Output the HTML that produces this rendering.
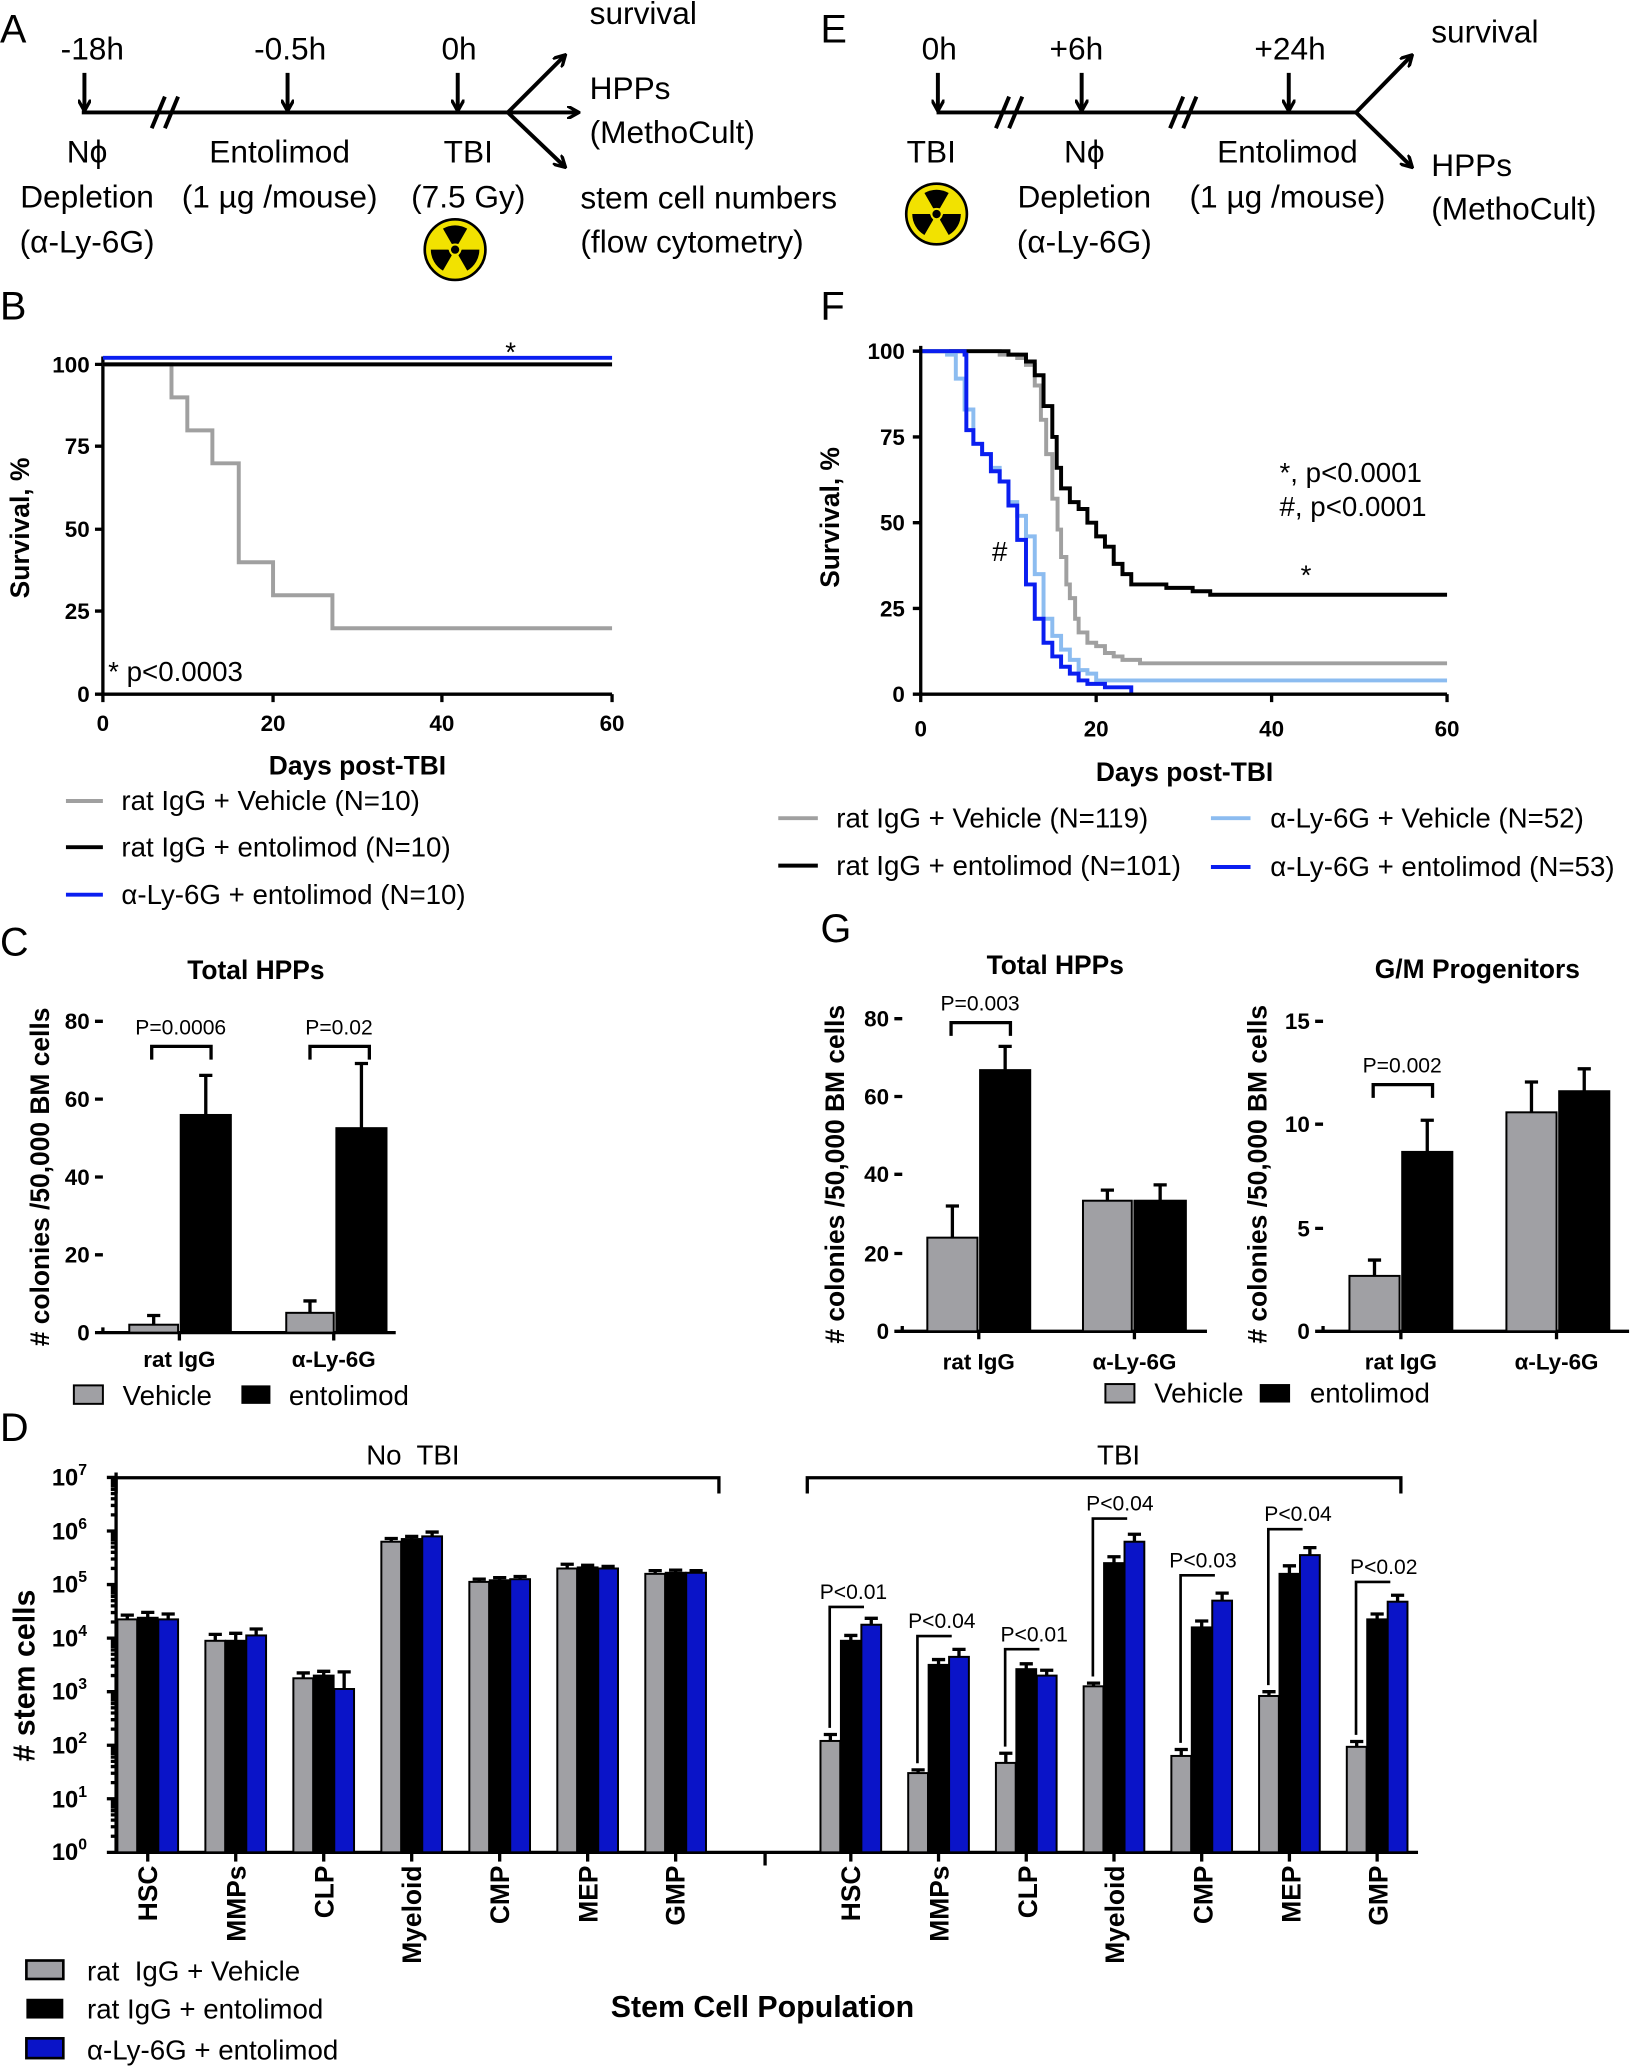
<!DOCTYPE html>
<html><head><meta charset="utf-8"><style>
html,body{margin:0;padding:0;background:#fff}
svg{display:block}
text{font-family:"Liberation Sans",sans-serif;fill:#000}
.big{font-size:24px}
.pl{font-size:30px}
.tk{font-size:17px;font-weight:bold}
.bl{font-size:20px;font-weight:bold}
.lg{font-size:21px}
.pv{font-size:16px}
.xl{font-weight:bold;font-size:20px}
</style></head><body>
<svg id="s" width="1637" height="2069" viewBox="0 0 1241 1568" xmlns="http://www.w3.org/2000/svg">
<defs><marker id="ah" markerWidth="10" markerHeight="10" refX="8" refY="5" orient="auto" markerUnits="userSpaceOnUse"><path d="M0,0 L9,5 L0,10" fill="none" stroke="#000" stroke-width="2.5"/></marker></defs>
<g id="g"></g>
<!-- Panel A -->
<text class="pl" x="0" y="32">A</text>
<g stroke="#000" stroke-width="3" fill="none">
<line x1="62" y1="85" x2="385" y2="85"/>
<line x1="64" y1="55" x2="64" y2="83" marker-end="url(#ah)"/>
<line x1="218" y1="55" x2="218" y2="83" marker-end="url(#ah)"/>
<line x1="347" y1="55" x2="347" y2="83" marker-end="url(#ah)"/>
<line x1="115" y1="97" x2="125" y2="73"/><line x1="125" y1="97" x2="135" y2="73"/>
<line x1="385" y1="85" x2="428" y2="42" marker-end="url(#ah)"/>
<line x1="385" y1="85" x2="438" y2="85" marker-end="url(#ah)"/>
<line x1="385" y1="85" x2="428" y2="126" marker-end="url(#ah)"/>
</g>
<g text-anchor="middle">
<text class="big" x="70" y="45">-18h</text><text class="big" x="220" y="45">-0.5h</text><text class="big" x="348" y="45">0h</text>
<text class="big" x="66" y="123">Nϕ</text><text class="big" x="66" y="157">Depletion</text><text class="big" x="66" y="191">(α-Ly-6G)</text>
<text class="big" x="212" y="123">Entolimod</text><text class="big" x="212" y="157">(1 µg /mouse)</text>
<text class="big" x="355" y="123">TBI</text><text class="big" x="355" y="157">(7.5 Gy)</text>
</g>
<text class="big" x="447" y="18">survival</text><text class="big" x="447" y="75">HPPs</text><text class="big" x="447" y="108">(MethoCult)</text>
<text class="big" x="440" y="158">stem cell numbers</text><text class="big" x="440" y="191">(flow cytometry)</text>
<!-- Panel E -->
<text class="pl" x="622" y="32">E</text>
<g stroke="#000" stroke-width="3" fill="none">
<line x1="710" y1="85" x2="1028" y2="85"/>
<line x1="711" y1="55" x2="711" y2="83" marker-end="url(#ah)"/>
<line x1="820" y1="55" x2="820" y2="83" marker-end="url(#ah)"/>
<line x1="977" y1="55" x2="977" y2="83" marker-end="url(#ah)"/>
<line x1="755" y1="97" x2="765" y2="73"/><line x1="765" y1="97" x2="775" y2="73"/>
<line x1="887" y1="97" x2="897" y2="73"/><line x1="897" y1="97" x2="907" y2="73"/>
<line x1="1028" y1="85" x2="1070" y2="42" marker-end="url(#ah)"/>
<line x1="1028" y1="85" x2="1070" y2="126" marker-end="url(#ah)"/>
</g>
<g text-anchor="middle">
<text class="big" x="712" y="45">0h</text><text class="big" x="816" y="45">+6h</text><text class="big" x="978" y="45">+24h</text>
<text class="big" x="706" y="123">TBI</text>
<text class="big" x="822" y="123">Nϕ</text><text class="big" x="822" y="157">Depletion</text><text class="big" x="822" y="191">(α-Ly-6G)</text>
<text class="big" x="976" y="123">Entolimod</text><text class="big" x="976" y="157">(1 µg /mouse)</text>
</g>
<text class="big" x="1085" y="32">survival</text><text class="big" x="1085" y="133">HPPs</text><text class="big" x="1085" y="166">(MethoCult)</text>

<!-- Panel B -->
<text class="pl" x="0" y="242">B</text>
<g stroke="#000" stroke-width="2.5" fill="none">
<path d="M78,270 V526 H464"/>
<path d="M72,276H78M72,338H78M72,401H78M72,463H78M72,526H78M78,526V532M207,526V532M335,526V532M464,526V532"/>
</g>
<g text-anchor="end"><text class="tk" x="68" y="282">100</text><text class="tk" x="68" y="344">75</text><text class="tk" x="68" y="407">50</text><text class="tk" x="68" y="469">25</text><text class="tk" x="68" y="532">0</text></g>
<g text-anchor="middle"><text class="tk" x="78" y="554">0</text><text class="tk" x="207" y="554">20</text><text class="tk" x="335" y="554">40</text><text class="tk" x="464" y="554">60</text></g>
<path d="M78,276H130V301H142V326H161V351H181V426H207V451H252V476H464" fill="none" stroke="#a0a0a0" stroke-width="3"/>
<line x1="78" y1="276" x2="464" y2="276" stroke="#000" stroke-width="3"/>
<line x1="78" y1="271" x2="464" y2="271" stroke="#0a1ef0" stroke-width="3"/>
<text class="lg" x="383" y="274">*</text>
<text class="lg" x="82" y="516">* p&lt;0.0003</text>
<text class="bl" transform="translate(22,400) rotate(-90)" text-anchor="middle">Survival, %</text>
<text class="bl" x="271" y="587" text-anchor="middle">Days post-TBI</text>
<line x1="50" y1="607" x2="78" y2="607" stroke="#a0a0a0" stroke-width="3"/><text class="lg" x="92" y="614">rat IgG + Vehicle (N=10)</text>
<line x1="50" y1="642" x2="78" y2="642" stroke="#000" stroke-width="3"/><text class="lg" x="92" y="649">rat IgG + entolimod (N=10)</text>
<line x1="50" y1="678" x2="78" y2="678" stroke="#0a1ef0" stroke-width="3"/><text class="lg" x="92" y="685">α-Ly-6G + entolimod (N=10)</text>

<!-- Panel F -->
<text class="pl" x="622" y="242">F</text>
<g stroke="#000" stroke-width="2.5" fill="none">
<path d="M698,262 V526 H1097"/>
<path d="M692,266H698M692,331H698M692,396H698M692,461H698M692,526H698M698,526V532M831,526V532M964,526V532M1097,526V532"/>
</g>
<g text-anchor="end"><text class="tk" x="686" y="272">100</text><text class="tk" x="686" y="337">75</text><text class="tk" x="686" y="402">50</text><text class="tk" x="686" y="467">25</text><text class="tk" x="686" y="532">0</text></g>
<g text-anchor="middle"><text class="tk" x="698" y="558">0</text><text class="tk" x="831" y="558">20</text><text class="tk" x="964" y="558">40</text><text class="tk" x="1097" y="558">60</text></g>
<text class="lg" x="970" y="365">*, p&lt;0.0001</text>
<text class="lg" x="970" y="391">#, p&lt;0.0001</text>
<text class="lg" x="752" y="425">#</text>
<text class="lg" x="986" y="443">*</text>
<text class="bl" transform="translate(636,392) rotate(-90)" text-anchor="middle">Survival, %</text>
<text class="bl" x="898" y="592" text-anchor="middle">Days post-TBI</text>
<line x1="590" y1="620" x2="620" y2="620" stroke="#a0a0a0" stroke-width="3"/><text class="lg" x="634" y="627">rat IgG + Vehicle (N=119)</text>
<line x1="590" y1="656" x2="620" y2="656" stroke="#000" stroke-width="3"/><text class="lg" x="634" y="663">rat IgG + entolimod (N=101)</text>
<line x1="918" y1="620" x2="948" y2="620" stroke="#8cbcf0" stroke-width="3"/><text class="lg" x="963" y="627">α-Ly-6G + Vehicle (N=52)</text>
<line x1="918" y1="657" x2="948" y2="657" stroke="#0a1ef0" stroke-width="3"/><text class="lg" x="963" y="664">α-Ly-6G + entolimod (N=53)</text>

<!-- Panel C -->
<text class="pl" x="0" y="724">C</text>
<text class="bl" x="194" y="742" text-anchor="middle">Total HPPs</text>
<text class="bl" transform="translate(37,892) rotate(-90)" text-anchor="middle">#&#160;colonies /50,000 BM cells</text>
<g text-anchor="end"><text class="tk" x="68" y="780">80</text><text class="tk" x="68" y="839">60</text><text class="tk" x="68" y="898">40</text><text class="tk" x="68" y="957">20</text><text class="tk" x="68" y="1016">0</text></g>
<text class="tk" x="136" y="1036" text-anchor="middle">rat IgG</text><text class="tk" x="253" y="1036" text-anchor="middle">α-Ly-6G</text>
<text class="pv" x="137" y="784" text-anchor="middle">P=0.0006</text><text class="pv" x="257" y="784" text-anchor="middle">P=0.02</text>
<rect x="56" y="1050" width="22" height="14" fill="#a0a0a4" stroke="#000" stroke-width="1.5"/><text class="lg" x="93" y="1065">Vehicle</text>
<rect x="183" y="1050" width="22" height="14" fill="#000"/><text class="lg" x="219" y="1065">entolimod</text>

<!-- Panel G -->
<text class="pl" x="622" y="714">G</text>
<text class="bl" x="800" y="738" text-anchor="middle">Total HPPs</text>
<text class="bl" x="1120" y="741" text-anchor="middle">G/M Progenitors</text>
<text class="bl" transform="translate(640,890) rotate(-90)" text-anchor="middle">#&#160;colonies /50,000 BM cells</text>
<text class="bl" transform="translate(960,890) rotate(-90)" text-anchor="middle">#&#160;colonies /50,000 BM cells</text>
<g text-anchor="end"><text class="tk" x="674" y="778">80</text><text class="tk" x="674" y="837">60</text><text class="tk" x="674" y="896">40</text><text class="tk" x="674" y="956">20</text><text class="tk" x="674" y="1015">0</text>
<text class="tk" x="993" y="780">15</text><text class="tk" x="993" y="858">10</text><text class="tk" x="993" y="937">5</text><text class="tk" x="993" y="1015">0</text></g>
<text class="tk" x="742" y="1038" text-anchor="middle">rat IgG</text><text class="tk" x="860" y="1038" text-anchor="middle">α-Ly-6G</text>
<text class="tk" x="1062" y="1038" text-anchor="middle">rat IgG</text><text class="tk" x="1180" y="1038" text-anchor="middle">α-Ly-6G</text>
<text class="pv" x="743" y="766" text-anchor="middle">P=0.003</text><text class="pv" x="1063" y="813" text-anchor="middle">P=0.002</text>
<rect x="838" y="1049" width="22" height="14" fill="#a0a0a4" stroke="#000" stroke-width="1.5"/><text class="lg" x="875" y="1063">Vehicle</text>
<rect x="955" y="1049" width="23" height="14" fill="#000"/><text class="lg" x="993" y="1063">entolimod</text>

<!-- Panel D -->
<text class="pl" x="0" y="1092">D</text>
<text class="lg" x="313" y="1110" text-anchor="middle">No&#160; TBI</text>
<text class="lg" x="848" y="1110" text-anchor="middle">TBI</text>
<path d="M88,1132V1120H545V1132M612,1132V1120H1062V1132" fill="none" stroke="#000" stroke-width="2.5"/>
<text class="bl" font-size="23" style="font-size:23px" transform="translate(26,1270) rotate(-90)" text-anchor="middle">#&#160;stem cells</text>
<rect x="20" y="1486" width="28" height="14" fill="#a0a0a4" stroke="#000" stroke-width="2"/><text class="lg" x="66" y="1501">rat&#160; IgG + Vehicle</text>
<rect x="20" y="1515" width="28" height="15" fill="#000"/><text class="lg" x="66" y="1530">rat IgG + entolimod</text>
<rect x="20" y="1545" width="28" height="15" fill="#0a14c8" stroke="#000" stroke-width="2"/><text class="lg" x="66" y="1561">α-Ly-6G + entolimod</text>
<text class="bl" x="578" y="1529" text-anchor="middle" style="font-size:23px">Stem Cell Population</text>
<g text-anchor="end">
<text class="tk" style="font-size:18px" x="66" y="1126">10<tspan font-size="12" dy="-8">7</tspan></text>
<text class="tk" style="font-size:18px" x="66" y="1167">10<tspan font-size="12" dy="-8">6</tspan></text>
<text class="tk" style="font-size:18px" x="66" y="1207">10<tspan font-size="12" dy="-8">5</tspan></text>
<text class="tk" style="font-size:18px" x="66" y="1248">10<tspan font-size="12" dy="-8">4</tspan></text>
<text class="tk" style="font-size:18px" x="66" y="1288">10<tspan font-size="12" dy="-8">3</tspan></text>
<text class="tk" style="font-size:18px" x="66" y="1329">10<tspan font-size="12" dy="-8">2</tspan></text>
<text class="tk" style="font-size:18px" x="66" y="1370">10<tspan font-size="12" dy="-8">1</tspan></text>
<text class="tk" style="font-size:18px" x="66" y="1410">10<tspan font-size="12" dy="-8">0</tspan></text>
</g>
<text class="pv" x="647" y="1212" text-anchor="middle">P&lt;0.01</text>
<text class="pv" x="714" y="1234" text-anchor="middle">P&lt;0.04</text>
<text class="pv" x="784" y="1244" text-anchor="middle">P&lt;0.01</text>
<text class="pv" x="849" y="1145" text-anchor="middle">P&lt;0.04</text>
<text class="pv" x="912" y="1188" text-anchor="middle">P&lt;0.03</text>
<text class="pv" x="984" y="1153" text-anchor="middle">P&lt;0.04</text>
<text class="pv" x="1049" y="1193" text-anchor="middle">P&lt;0.02</text>
<text class="xl" transform="translate(119,1414) rotate(-90)" text-anchor="end">HSC</text>
<text class="xl" transform="translate(186,1414) rotate(-90)" text-anchor="end">MMPs</text>
<text class="xl" transform="translate(253,1414) rotate(-90)" text-anchor="end">CLP</text>
<text class="xl" transform="translate(319,1414) rotate(-90)" text-anchor="end">Myeloid</text>
<text class="xl" transform="translate(386,1414) rotate(-90)" text-anchor="end">CMP</text>
<text class="xl" transform="translate(453,1414) rotate(-90)" text-anchor="end">MEP</text>
<text class="xl" transform="translate(519,1414) rotate(-90)" text-anchor="end">GMP</text>
<text class="xl" transform="translate(652,1414) rotate(-90)" text-anchor="end">HSC</text>
<text class="xl" transform="translate(719,1414) rotate(-90)" text-anchor="end">MMPs</text>
<text class="xl" transform="translate(786,1414) rotate(-90)" text-anchor="end">CLP</text>
<text class="xl" transform="translate(852,1414) rotate(-90)" text-anchor="end">Myeloid</text>
<text class="xl" transform="translate(919,1414) rotate(-90)" text-anchor="end">CMP</text>
<text class="xl" transform="translate(986,1414) rotate(-90)" text-anchor="end">MEP</text>
<text class="xl" transform="translate(1052,1414) rotate(-90)" text-anchor="end">GMP</text>
</svg>
<script>
var NS="http://www.w3.org/2000/svg",G=document.getElementById("g");
function el(t,a,p){var e=document.createElementNS(NS,t);for(var k in a)e.setAttribute(k,a[k]);(p||G).appendChild(e);return e;}
function rad(cx,cy,r){el("circle",{cx:cx,cy:cy,r:r,fill:"#f2e200",stroke:"#000","stroke-width":2});
 var ro=r*0.8,ri=r*0.22;
 [-90,30,150].forEach(function(a){var a1=(a-30)*Math.PI/180,a2=(a+30)*Math.PI/180;
  var d="M"+(cx+ri*Math.cos(a1))+","+(cy+ri*Math.sin(a1))+"L"+(cx+ro*Math.cos(a1))+","+(cy+ro*Math.sin(a1))+"A"+ro+","+ro+" 0 0 1 "+(cx+ro*Math.cos(a2))+","+(cy+ro*Math.sin(a2))+"L"+(cx+ri*Math.cos(a2))+","+(cy+ri*Math.sin(a2))+"Z";
  el("path",{d:d,fill:"#000"});});
 el("circle",{cx:cx,cy:cy,r:r*0.17,fill:"#000",stroke:"#f2e200","stroke-width":1.5});}
rad(345,189,23);rad(710,162,23);
function step(pts,col){var d="",X=function(t){return 698+t*6.65},Y=function(v){return 526-v*2.6};
 d="M"+X(pts[0][0])+","+Y(pts[0][1]);for(var i=1;i<pts.length;i++){d+="H"+X(pts[i][0])+"V"+Y(pts[i][1]);}
 el("path",{d:d,fill:"none",stroke:col,"stroke-width":3});}
step([[0,100],[9,99],[11,98],[12,96],[13,90],[13.7,80],[14.3,70],[15,57],[15.6,48],[16,40],[16.6,32],[17,28],[17.6,22],[18,18],[19,15],[20,14],[21,12],[22,11],[23,10],[25,9],[60,9]],"#a0a0a0");
step([[0,100],[10,99],[12,97],[13,93],[14,84],[15,75],[15.5,66],[16,60],[17,56],[18,54],[19,50],[20,46],[21,43],[22,38],[23,35],[24,32],[28,31],[31,30],[33,29],[60,29]],"#000");
step([[0,100],[3,99],[4,92],[5,83],[6,73],[7,70],[8,66],[9,62],[10,56],[11,52],[12,46],[13,35],[14,22],[15,17],[16,13],[17,10],[18,7],[19,6],[20,4],[60,4]],"#8cbcf0");
step([[0,100],[5,99],[5.2,77],[6,73],[7,70],[8,65],[9,62],[10,55],[11,45],[12,32],[13,22],[14,15],[15,11],[16,8],[17,6],[18,4],[19,3],[21,2],[24,0]],"#0a1ef0");
function axis(x0,x1,y0,ys){var d="M"+x0+","+(ys[ys.length-1]-4)+"V"+y0+"H"+x1;ys.forEach(function(y){d+="M"+(x0-6)+","+y+"H"+x0;});
 el("path",{d:d,fill:"none",stroke:"#000","stroke-width":2.5});}
function bar(x,w,ytop,y0,yerr,col){el("rect",{x:x,y:ytop,width:w,height:y0-ytop,fill:col,stroke:"#000","stroke-width":1.5});
 if(yerr!=null){el("path",{d:"M"+(x+w/2)+","+ytop+"V"+yerr+"M"+(x+w/2-5)+","+yerr+"H"+(x+w/2+5),stroke:"#000","stroke-width":2.5,fill:"none"});}}
function brk(x1,x2,y,h){el("path",{d:"M"+x1+","+(y+h)+"V"+y+"H"+x2+"V"+(y+h),fill:"none",stroke:"#000","stroke-width":2.5});}
var GR="#a0a0a4";
axis(78,300,1010,[774,833,892,951,1010]);
bar(98,37,1004,1010,997,GR);bar(137,38,845,1010,815,"#000");bar(217,36,995,1010,986,GR);bar(255,38,855,1010,806,"#000");
el("path",{d:"M136,1010V1016M253,1010V1016",stroke:"#000","stroke-width":2.5});
brk(115,160,793,10);brk(235,280,793,10);
axis(684,915,1009,[772,831,890,950,1009]);
bar(703,38,938,1009,914,GR);bar(743,38,811,1009,793,"#000");bar(821,37,910,1009,902,GR);bar(860,39,910,1009,898,"#000");
el("path",{d:"M742,1009V1015M860,1009V1015",stroke:"#000","stroke-width":2.5});
brk(721,766,775,10);
axis(1003,1235,1009,[774,852,931,1009]);
bar(1023,38,967,1009,955,GR);bar(1063,38,873,1009,849,"#000");bar(1142,38,843,1009,820,GR);bar(1182,38,827,1009,810,"#000");
el("path",{d:"M1062,1009V1015M1180,1009V1015",stroke:"#000","stroke-width":2.5});
brk(1041,1086,822,10);
var Y=function(v){return 1404-40.6*v};
var d="M88,1116V1404H1075";for(var i=0;i<=7;i++)d+="M81,"+Y(i)+"H88";
for(var i=0;i<7;i++)for(var j=1;j<10;j++){d+="M84,"+Y(i+Math.log10(j))+"H88";}
d+="M580,1404V1414";
el("path",{d:d,fill:"none",stroke:"#000","stroke-width":2.5});
var nt=[[4.35,4.38,4.35],[3.95,3.95,4.05],[3.25,3.3,3.05],[5.8,5.85,5.9],[5.05,5.08,5.1],[5.3,5.32,5.3],[5.2,5.22,5.22]];
var tb=[[2.08,3.95,4.25],[1.48,3.5,3.65],[1.67,3.42,3.3],[3.1,5.4,5.8],[1.8,4.2,4.7],[2.92,5.2,5.55],[1.97,4.35,4.68]];
var ec=[[.08,.1,.1],[.12,.14,.12],[.1,.08,.32],[.06,.05,.08],[.05,.05,.05],[.08,.04,.04],[.06,.05,.04]];
var et=[[.12,.1,.12],[.06,.1,.14],[.18,.1,.1],[.06,.12,.14],[.12,.12,.14],[.08,.15,.14],[.1,.1,.12]];
var cols=[GR,"#000","#0a14c8"];
function grp(c,vals,errs){for(var k=0;k<3;k++){var x=c-23+k*15.5;bar(x,15,Y(vals[k]),1404,Y(vals[k]+errs[k]),cols[k]);}
 el("path",{d:"M"+c+",1404V1411",stroke:"#000","stroke-width":2.5});}
for(var i=0;i<7;i++){grp(112+i*66.7,nt[i],ec[i]);grp(645+i*66.5,tb[i],et[i]);}
var py=[1218,1240,1250,1151,1194,1159,1199];
for(var i=0;i<7;i++){var c=645+i*66.5,gx=c-16;
 el("path",{d:"M"+(gx+26)+","+py[i]+"H"+gx+"V"+(Y(tb[i][0]+et[i][0])-5),fill:"none",stroke:"#000","stroke-width":2});}
</script>
</body></html>
